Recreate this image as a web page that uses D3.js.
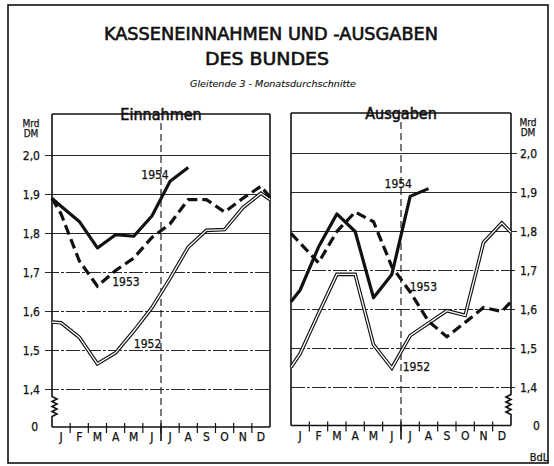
<!DOCTYPE html>
<html>
<head>
<meta charset="utf-8">
<script src="https://cdn.jsdelivr.net/npm/d3@7"></script>
<style>
  body { margin: 0; background: #fff; }
  text { stroke: #111; stroke-width: 0.25px; }
  text.heavy { stroke-width: 0.55px; }
</style>
</head>
<body>
<div id="chart"></div>
<script>
// Monate und y-Ticks
const months = ['J', 'F', 'M', 'A', 'M', 'J', 'J', 'A', 'S', 'O', 'N', 'D'];
const yTicks = [1.4, 1.5, 1.6, 1.7, 1.8, 1.9, 2.0];

// Werte in Mrd DM: erster Wert = linker Rand, dann Jan..Dez, letzter Wert = rechter Rand
const ein1952 = [1.573, 1.571, 1.534, 1.466, 1.494, 1.55, 1.61, 1.685, 1.765, 1.808, 1.81, 1.866, 1.903, 1.887];
const ein1953 = [1.89, 1.85, 1.73, 1.665, 1.705, 1.737, 1.79, 1.825, 1.887, 1.887, 1.855, 1.89, 1.921, 1.893];
const ein1954 = [1.89, 1.87, 1.831, 1.763, 1.797, 1.793, 1.845, 1.934, 1.969];

const aus1952 = [1.452, 1.487, 1.59, 1.69, 1.69, 1.51, 1.45, 1.533, 1.565, 1.597, 1.585, 1.772, 1.822, 1.798];
const aus1953 = [1.795, 1.77, 1.72, 1.80, 1.85, 1.825, 1.71, 1.645, 1.57, 1.53, 1.567, 1.605, 1.595, 1.62];
const aus1954 = [1.62, 1.65, 1.76, 1.845, 1.80, 1.63, 1.69, 1.89, 1.91];

// Beschriftung der Jahreslinien (Monatsposition, Wert)
const einLabels = [['1954', 5.17, 1.941], ['1953', 3.57, 1.666], ['1952', 4.76, 1.507]];
const ausLabels = [['1954', 5.35, 1.911], ['1953', 6.72, 1.648], ['1952', 6.34, 1.443]];

const W = 554, H = 466;
const ink = '#111';
const font = '"DejaVu Sans Condensed", "DejaVu Sans", sans-serif';

const svg = d3.select('#chart').append('svg')
    .attr('width', W)
    .attr('height', H)
    .style('font-family', font);

svg.append('rect').attr('width', W).attr('height', H).attr('fill', '#fff');

// Rahmen
svg.append('rect')
    .attr('x', 8).attr('y', 5)
    .attr('width', 540).attr('height', 458)
    .attr('fill', 'none')
    .attr('stroke', ink)
    .attr('stroke-width', 1.6);

// Titel
svg.append('text')
    .attr('class', 'heavy')
    .attr('x', 271).attr('y', 40)
    .attr('text-anchor', 'middle')
    .attr('font-size', 17)
    .attr('fill', ink)
    .attr('textLength', 334)
    .attr('lengthAdjust', 'spacingAndGlyphs')
    .text('KASSENEINNAHMEN  UND -AUSGABEN');
svg.append('text')
    .attr('class', 'heavy')
    .attr('x', 267).attr('y', 65)
    .attr('text-anchor', 'middle')
    .attr('font-size', 17)
    .attr('fill', ink)
    .attr('textLength', 124)
    .attr('lengthAdjust', 'spacingAndGlyphs')
    .text('DES BUNDES');
svg.append('text')
    .attr('x', 273).attr('y', 87)
    .attr('text-anchor', 'middle')
    .attr('font-size', 9)
    .attr('font-style', 'italic')
    .attr('fill', ink)
    .style('stroke-width', '0.1px')
    .attr('textLength', 166)
    .attr('lengthAdjust', 'spacingAndGlyphs')
    .text('Gleitende 3 - Monatsdurchschnitte');

svg.append('text')
    .attr('x', 539).attr('y', 461)
    .attr('text-anchor', 'middle')
    .attr('font-size', 11)
    .attr('fill', ink)
    .text('BdL');

const panels = [
    {
        name: 'Einnahmen', left: 52, right: 270, top: 114, base: 427, y14: 389.5, y20: 155.5, side: 'left',
        series: [ein1952, ein1953, ein1954], labels: einLabels
    },
    {
        name: 'Ausgaben', left: 291, right: 511, top: 113, base: 425.5, y14: 387.5, y20: 153.5, side: 'right',
        series: [aus1952, aus1953, aus1954], labels: ausLabels
    }
];

const fmt = (v) => d3.format('.1f')(v).replace('.', ',');

panels.forEach((p) => {
    const g = svg.append('g');
    const x = d3.scaleLinear().domain([-0.5, 11.5]).range([p.left, p.right]);
    const band = d3.scaleBand().domain(d3.range(12)).range([p.left, p.right]);
    const y = d3.scaleLinear().domain([1.4, 2.0]).range([p.y14, p.y20]);
    const isLeft = p.side === 'left';
    const axisX = isLeft ? p.left : p.right;
    const otherX = isLeft ? p.right : p.left;
    const dir = isLeft ? 1 : -1;

    // Gitterlinien
    g.selectAll('line.grid')
        .data(yTicks)
        .join('line')
        .attr('x1', isLeft ? p.left - 7 : p.left)
        .attr('x2', isLeft ? p.right : p.right + 6)
        .attr('y1', (d) => y(d))
        .attr('y2', (d) => y(d))
        .attr('stroke', ink)
        .attr('stroke-width', 0.9)
        .attr('stroke-dasharray', (d) => d < 1.75 ? '14,2,3,2' : null);

    // y-Beschriftung
    g.selectAll('text.ytick')
        .data(yTicks)
        .join('text')
        .attr('x', isLeft ? p.left - 12 : p.right + 9)
        .attr('y', (d) => y(d))
        .attr('dy', '0.36em')
        .attr('text-anchor', isLeft ? 'end' : 'start')
        .attr('font-size', 12)
        .attr('fill', ink)
        .text(fmt);

    g.append('text')
        .attr('x', isLeft ? p.left - 14 : p.right + 22)
        .attr('y', p.base)
        .attr('dy', '0.36em')
        .attr('text-anchor', isLeft ? 'end' : 'start')
        .attr('font-size', 12)
        .attr('fill', ink)
        .text('0');

    const unitX = isLeft ? p.left - 21 : p.right + 17;
    g.append('text').attr('x', unitX).attr('y', p.top + 13)
        .attr('text-anchor', 'middle').attr('font-size', 10).attr('fill', ink).text('Mrd');
    g.append('text').attr('x', unitX).attr('y', p.top + 23)
        .attr('text-anchor', 'middle').attr('font-size', 10).attr('fill', ink).text('DM');

    // Achse mit Bruchzeichen
    const zig = d3.path();
    zig.moveTo(axisX, p.top);
    let zy = p.y14 + 7;
    zig.lineTo(axisX, zy);
    for (let i = 0; i < 4; i++) {
        zig.lineTo(axisX + dir * 5, zy + 2.5);
        zig.lineTo(axisX, zy + 5);
        zy += 5;
    }
    zig.lineTo(axisX, p.base);
    g.append('path')
        .attr('d', zig.toString())
        .attr('fill', 'none')
        .attr('stroke', ink)
        .attr('stroke-width', 1.6);

    g.append('line')
        .attr('x1', otherX).attr('x2', otherX)
        .attr('y1', p.top).attr('y2', p.base)
        .attr('stroke', ink).attr('stroke-width', 1.6);
    g.append('line')
        .attr('x1', p.left).attr('x2', p.right)
        .attr('y1', p.base).attr('y2', p.base)
        .attr('stroke', ink).attr('stroke-width', 1.6);
    g.append('line')
        .attr('x1', p.left).attr('x2', p.right)
        .attr('y1', p.top).attr('y2', p.top)
        .attr('stroke', ink).attr('stroke-width', 1.6);

    // Monatsstriche und Monatsnamen
    g.selectAll('line.mtick')
        .data(d3.range(1, 12))
        .join('line')
        .attr('x1', (d) => band(d))
        .attr('x2', (d) => band(d))
        .attr('y1', p.base - 4)
        .attr('y2', p.base + 6)
        .attr('stroke', ink)
        .attr('stroke-width', 1.2);
    g.selectAll('text.month')
        .data(months)
        .join('text')
        .attr('x', (d, i) => band(i) + band.bandwidth() / 2)
        .attr('y', p.base + 14)
        .attr('text-anchor', 'middle')
        .attr('font-size', 12)
        .attr('fill', ink)
        .text((d) => d);

    // Halbjahreslinie
    const hx = x(5.5);
    g.append('line')
        .attr('x1', hx).attr('x2', hx)
        .attr('y1', p.top + 9).attr('y2', p.base)
        .attr('stroke', ink)
        .attr('stroke-width', 1.1)
        .attr('stroke-dasharray', '7,4');
    g.append('line')
        .attr('x1', hx).attr('x2', hx)
        .attr('y1', p.base).attr('y2', p.base + 14)
        .attr('stroke', ink)
        .attr('stroke-width', 1.6);

    // Panel-Titel
    const title = g.append('text')
        .attr('class', 'heavy')
        .attr('x', hx).attr('y', p.top + 6)
        .attr('text-anchor', 'middle')
        .attr('font-size', 16)
        .attr('fill', ink)
        .text(p.name);
    const bb = title.node().getBBox();
    g.insert('rect', 'text')
        .attr('x', bb.x - 3).attr('y', bb.y)
        .attr('width', bb.width + 6).attr('height', bb.height)
        .attr('fill', '#fff');
    title.raise();

    // Linien
    const toPoints = (arr, full) => arr.map((v, i) => ({
        m: i === 0 ? -0.5 : (full && i === arr.length - 1 ? 11.5 : i - 1),
        v: v
    }));
    const line = d3.line().x((d) => x(d.m)).y((d) => y(d.v));

    const s52 = toPoints(p.series[0], true);
    const s53 = toPoints(p.series[1], true);
    const s54 = toPoints(p.series[2], false);

    g.append('path').datum(s52)
        .attr('d', line).attr('fill', 'none')
        .attr('stroke', ink).attr('stroke-width', 3.6)
        .attr('stroke-linejoin', 'miter');
    g.append('path').datum(s52)
        .attr('d', line).attr('fill', 'none')
        .attr('stroke', '#fff').attr('stroke-width', 1.3)
        .attr('stroke-linejoin', 'miter');

    g.append('path').datum(s53)
        .attr('d', line).attr('fill', 'none')
        .attr('stroke', ink).attr('stroke-width', 3.2)
        .attr('stroke-dasharray', '10,5');

    g.append('path').datum(s54)
        .attr('d', line).attr('fill', 'none')
        .attr('stroke', ink).attr('stroke-width', 3.2)
        .attr('stroke-linejoin', 'round');

    g.selectAll('text.yr')
        .data(p.labels)
        .join('text')
        .attr('x', (d) => x(d[1]))
        .attr('y', (d) => y(d[2]))
        .attr('text-anchor', 'middle')
        .attr('font-size', 12)
        .attr('fill', ink)
        .text((d) => d[0]);
});
</script>
</body>
</html>
